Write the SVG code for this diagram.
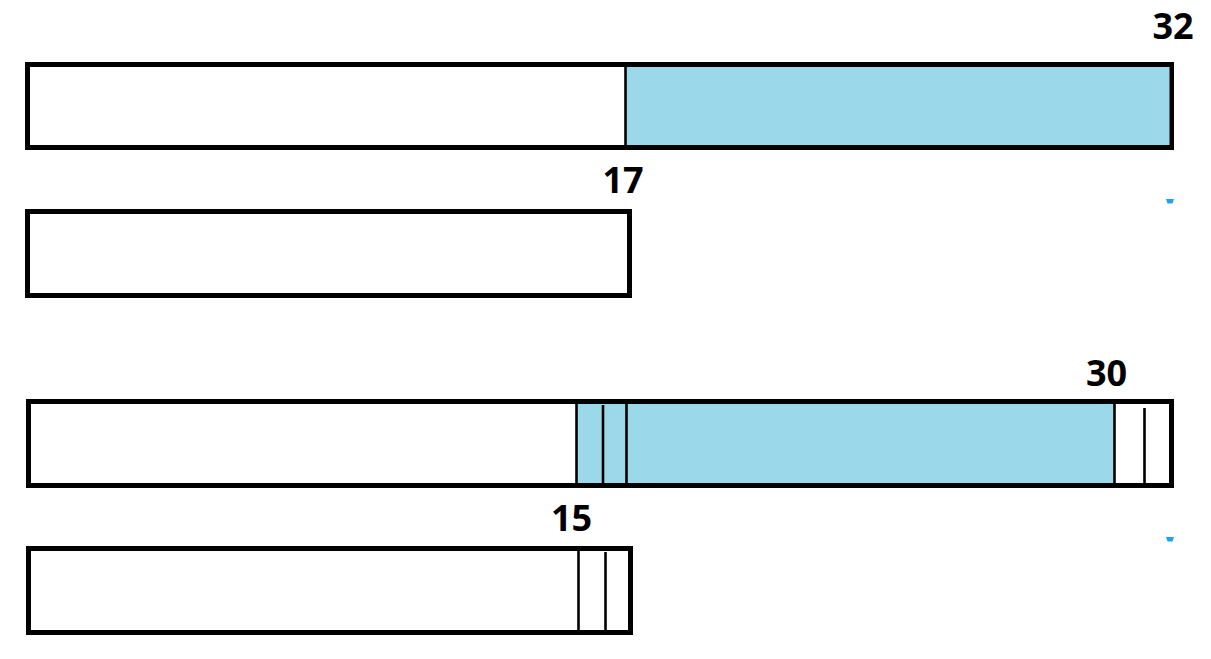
<svg xmlns="http://www.w3.org/2000/svg" width="1211" height="659" viewBox="0 0 1211 659">
  <style>
    .bar { fill: #ffffff; stroke: #000000; stroke-width: 5; }
    .fill { fill: #9bd9ea; stroke: none; }
    .div { stroke: #000000; stroke-width: 2.6; fill: none; }
    .lbl { font-family: "Open Sans", "Liberation Sans", sans-serif; font-weight: 700; font-size: 36px; fill: #000000; text-anchor: middle; }
    .dot { fill: #1ea3e8; }
  </style>
  <rect x="0" y="0" width="1211" height="659" fill="#ffffff"/>

  <g id="bar1">
    <rect class="bar" x="27.5" y="64.5" width="1144" height="83"/>
    <rect class="fill" x="626" y="67" width="543.5" height="78"/>
    <line class="div" x1="625.5" y1="66" x2="625.5" y2="146"/>
    <text class="lbl" x="1173" y="39">32</text>
  </g>

  <g id="bar2">
    <rect class="bar" x="27.5" y="211.5" width="602" height="84"/>
    <text class="lbl" x="623" y="193">17</text>
  </g>

  <g id="bar3">
    <rect class="bar" x="28.5" y="401.5" width="1143" height="84"/>
    <rect class="fill" x="577" y="404" width="537.5" height="79"/>
    <line class="div" x1="576.5" y1="403" x2="576.5" y2="484"/>
    <line class="div" x1="603" y1="405" x2="603" y2="484"/>
    <line class="div" x1="626.5" y1="403" x2="626.5" y2="484"/>
    <line class="div" x1="1114.5" y1="403" x2="1114.5" y2="484"/>
    <line class="div" x1="1144.5" y1="408" x2="1144.5" y2="484"/>
    <text class="lbl" x="1106.5" y="386">30</text>
  </g>

  <g id="bar4">
    <rect class="bar" x="28.5" y="548.5" width="602" height="84"/>
    <line class="div" x1="578.5" y1="550" x2="578.5" y2="631"/>
    <line class="div" x1="605.5" y1="552" x2="605.5" y2="631"/>
    <text class="lbl" x="571.5" y="531">15</text>
  </g>

  <g id="marks">
    <path class="dot" d="M1166,199 L1174,199 L1172.5,203.5 L1167.5,203.5 Z"/>
    <path class="dot" d="M1166,537 L1174,537 L1172.5,541.5 L1167.5,541.5 Z"/>
  </g>
</svg>
